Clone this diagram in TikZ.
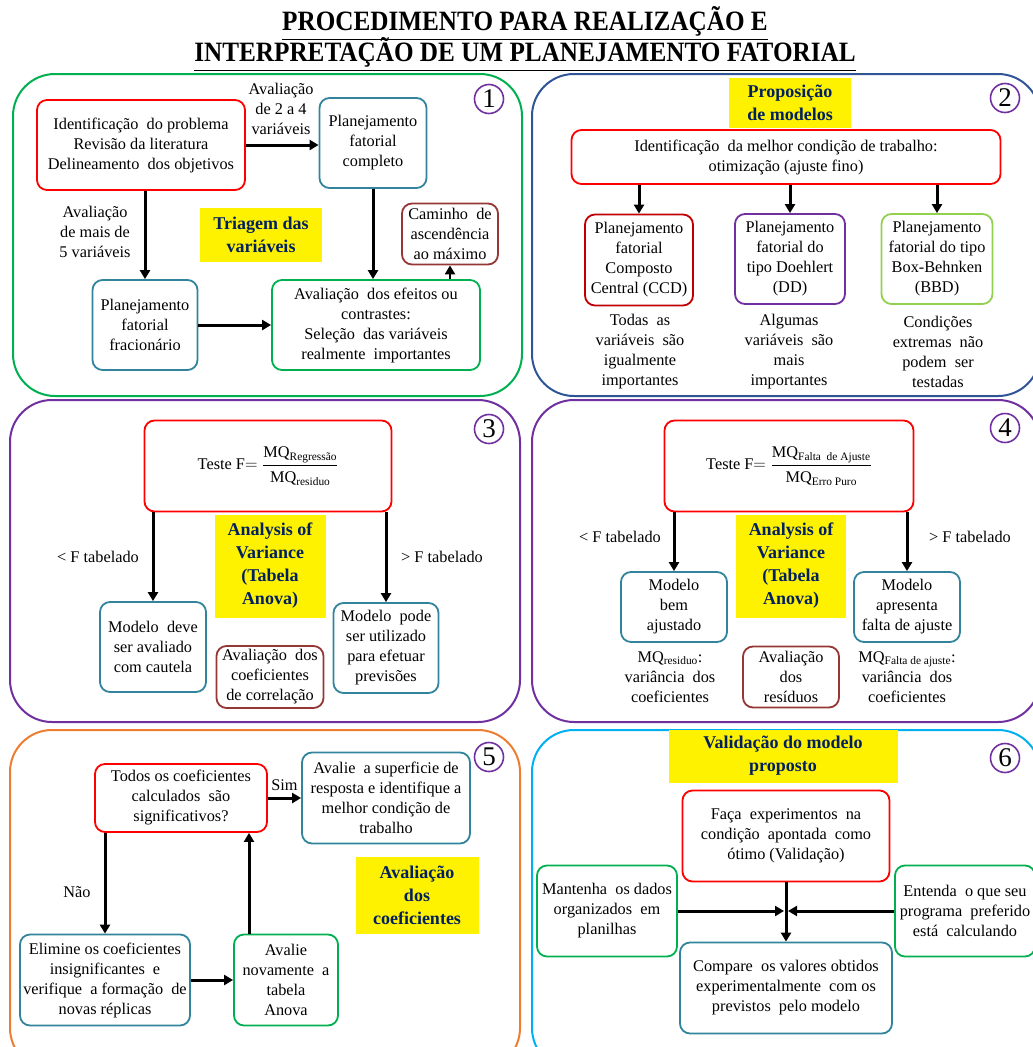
\documentclass[tikz,border=0pt]{standalone}
\usepackage{fontspec}
\setmainfont{Liberation Serif}
\newfontfamily\titlefont[FakeStretch=0.9]{Liberation Serif}
\usepackage{amsmath}
\usetikzlibrary{arrows.meta,positioning}

\definecolor{boxred}{RGB}{255,0,0}
\definecolor{boxteal}{RGB}{49,132,155}
\definecolor{boxgreen}{RGB}{0,176,80}
\definecolor{boxbrown}{RGB}{149,55,53}
\definecolor{ccdred}{RGB}{192,0,0}
\definecolor{numpurple}{RGB}{112,48,160}
\definecolor{bbdgreen}{RGB}{146,208,80}
\definecolor{paneblue}{RGB}{47,85,151}
\definecolor{paneorange}{RGB}{237,125,49}
\definecolor{panesky}{RGB}{0,176,240}
\definecolor{hlnavy}{RGB}{0,32,96}

\begin{document}
\begin{tikzpicture}[x=1pt, y=-1pt, >={Triangle[length=9pt,width=10pt]}, line width=1.8pt,
  font=\fontsize{16.3}{20}\selectfont,
  box/.style={draw, rounded corners=10pt, align=center, inner sep=1pt},
  panel/.style={draw, rounded corners=42pt, line width=2pt},
  num/.style={circle, draw=numpurple, line width=1.6pt, inner sep=0pt, minimum size=29pt, font=\fontsize{27}{27}\selectfont},
  hl/.style={fill=yellow, text=hlnavy, align=center, inner sep=0pt, font=\bfseries\fontsize{18}{23}\selectfont},
  arr/.style={->, line width=3pt},
  lbl/.style={align=center, inner sep=0pt}]
  \useasboundingbox (0,0) rectangle (1033,1047);

  % title
  \node[lbl, font=\titlefont\bfseries\fontsize{28}{30}\selectfont] (title) at (525,39)
    {\underline{PROCEDIMENTO PARA REALIZAÇÃO E}\\[-5pt]\underline{INTERPRETAÇÃO DE UM PLANEJAMENTO FATORIAL}};

  % panels
  \draw[panel, boxgreen] (13,74) rectangle (522,396);
  \draw[panel, paneblue] (532,74) rectangle (1040,396);
  \draw[panel, numpurple] (10,400) rectangle (520,722);
  \draw[panel, numpurple] (532,400) rectangle (1040,722);
  \draw[panel, paneorange] (10,730) rectangle (520,1070);
  \draw[panel, panesky] (532,730) rectangle (1040,1070);

  \node[num] (n1) at (489,99) {1};
  \node[num] (n2) at (1005,98) {2};
  \node[num] (n3) at (489,429) {3};
  \node[num] (n4) at (1005,428) {4};
  \node[num] (n5) at (489,757) {5};
  \node[num] (n6) at (1005,758) {6};

  % 1: triagem
  \node[box, draw=boxred, minimum width=208pt, minimum height=90pt] (ident) at (141,145)
    {Identificação\ \ do problema\\Revisão da literatura\\Delineamento\ \ dos objetivos};
  \node[box, draw=boxteal, minimum width=107pt, minimum height=90pt] (compl) at (373,143)
    {Planejamento\\fatorial\\completo};
  \node[box, draw=boxteal, minimum width=105pt, minimum height=90pt] (fracion) at (145,325)
    {Planejamento\\fatorial\\fracionário};
  \node[box, draw=boxgreen, minimum width=208pt, minimum height=90pt] (efeitos) at (376,325)
    {Avaliação\ \ dos efeitos ou\\contrastes:\\Seleção\ \ das variáveis\\realmente\ \ importantes};
  \node[box, draw=boxbrown, minimum width=96pt, minimum height=61pt, inner sep=0pt] (caminho) at (450,234)
    {Caminho\ \ de\\ascendência\\ao máximo};
  \node[hl, minimum width=122pt, minimum height=54pt] (triagem) at (261,235) {Triagem das\\variáveis};
  \node[lbl] (l24) at (281,109) {Avaliação\\de 2 a 4\\variáveis};
  \node[lbl] (l5) at (95,232) {Avaliação\\de mais de\\5 variáveis};
  \draw[arr] (ident.east) -- (compl.west |- ident.east);
  \draw[arr] (fracion.north |- ident.south) -- (fracion.north);
  \draw[arr] (fracion.east) -- (efeitos.west);
  \draw[arr] (compl.south) -- (compl.south |- efeitos.north);
  \draw[arr, line width=2.4pt] (caminho.south |- efeitos.north) -- (caminho.south);

  % 2: modelos
  \node[hl, minimum width=122pt, minimum height=50pt] (prop) at (790,103) {Proposição\\de modelos};
  \node[box, draw=boxred, minimum width=429pt, minimum height=54pt] (otim) at (786,157)
    {Identificação\ \ da melhor condição de trabalho:\\otimização (ajuste fino)};
  \node[box, draw=ccdred, minimum width=108pt, minimum height=91pt, inner sep=0pt] (ccd) at (639,260)
    {Planejamento\\fatorial\\Composto\\Central (CCD)};
  \node[box, draw=numpurple, minimum width=110pt, minimum height=90pt, inner sep=0pt] (dd) at (790,259)
    {Planejamento\\fatorial do\\tipo Doehlert\\(DD)};
  \node[box, draw=bbdgreen, minimum width=111pt, minimum height=90pt, inner sep=0pt] (bbd) at (937,259)
    {Planejamento\\fatorial do tipo\\Box-Behnken\\(BBD)};
  \draw[arr] (otim.south -| ccd) -- (ccd.north);
  \draw[arr] (otim.south -| dd) -- (dd.north);
  \draw[arr] (otim.south -| bbd) -- (bbd.north);
  \node[lbl] (tccd) at (640,352) {Todas\ \ as\\variáveis\ \ são\\igualmente\\importantes};
  \node[lbl] (tdd) at (789,352) {Algumas\\variáveis\ \ são\\mais\\importantes};
  \node[lbl] (tbbd) at (938,352) {Condições\\extremas\ \ não\\podem\ \ ser\\testadas};

  % 3: anova regressao
  \node[box, draw=boxred, minimum width=247pt, minimum height=91pt] (f3) at (268,466)
    {Teste F$=\dfrac{\text{MQ\textsubscript{Regressão}}}{\rule{0pt}{15pt}\text{MQ\textsubscript{residuo}}}$};
  \node[box, draw=boxteal, minimum width=106pt, minimum height=90pt] (deve) at (153,647)
    {Modelo\ \ deve\\ser avaliado\\com cautela};
  \node[box, draw=boxteal, minimum width=105pt, minimum height=90pt] (pode) at (386,648)
    {Modelo\ \ pode\\ser utilizado\\para efetuar\\previsões};
  \node[box, draw=boxbrown, minimum width=107pt, minimum height=62pt, inner sep=0pt] (corr) at (270,677)
    {Avaliação\ \ dos\\coeficientes\\de correlação};
  \node[hl, minimum width=111pt, minimum height=103pt] (anova3) at (270,566)
    {Analysis of\\Variance\\(Tabela\\Anova)};
  \draw[arr] (deve.north |- f3.south) -- (deve.north);
  \draw[arr] (pode.north |- f3.south) -- (pode.north);
  \node[lbl] (lt3) at (98,557) {< F tabelado};
  \node[lbl] (gt3) at (442,557) {> F tabelado};

  % 4: anova falta de ajuste
  \node[box, draw=boxred, minimum width=249pt, minimum height=91pt] (f4) at (789,466)
    {Teste F$=\dfrac{\text{MQ\textsubscript{Falta\ \ de Ajuste}}}{\rule{0pt}{15pt}\text{MQ\textsubscript{Erro Puro}}}$};
  \node[box, draw=boxteal, minimum width=106pt, minimum height=70pt] (bem) at (674,607)
    {Modelo\\bem\\ajustado};
  \node[box, draw=boxteal, minimum width=106pt, minimum height=70pt, inner sep=0pt] (falta) at (907,607)
    {Modelo\\apresenta\\falta de ajuste};
  \node[hl, minimum width=110pt, minimum height=103pt] (anova4) at (791,566)
    {Analysis of\\Variance\\(Tabela\\Anova)};
  \draw[arr] (bem.north |- f4.south) -- (bem.north);
  \draw[arr] (falta.north |- f4.south) -- (falta.north);
  \node[lbl] (lt4) at (620,537) {< F tabelado};
  \node[lbl] (gt4) at (970,537) {> F tabelado};
  \node[lbl] (mqres) at (670,677) {MQ\textsubscript{residuo}:\\variância\ \ dos\\coeficientes};
  \node[box, draw=boxbrown, minimum width=96pt, minimum height=61pt, inner sep=0pt] (resid) at (791,677)
    {Avaliação\\dos\\resíduos};
  \node[lbl] (mqfal) at (907,677) {MQ\textsubscript{Falta\ de ajuste}:\\variância\ \ dos\\coeficientes};

  % 5: coeficientes
  \node[box, draw=boxred, minimum width=172pt, minimum height=68pt] (todos) at (181,798)
    {Todos os coeficientes\\calculados\ \ são\\significativos?};
  \node[box, draw=boxteal, minimum width=168pt, minimum height=91pt, inner sep=0pt] (sup) at (386,798)
    {Avalie\ \ a superficie de\\resposta e identifique a\\melhor condição de\\trabalho};
  \node[hl, minimum width=123pt, minimum height=77pt] (aval5) at (417,895) {Avaliação\\dos\\coeficientes};
  \node[box, draw=boxteal, minimum width=170pt, minimum height=91pt, inner sep=0pt] (elim) at (105,980)
    {Elimine os coeficientes\\insignificantes\ \ e\\verifique\ \ a formação\ \ de\\novas réplicas};
  \node[box, draw=boxgreen, minimum width=104pt, minimum height=91pt] (nov) at (286,980)
    {Avalie\\novamente\ \ a\\tabela\\Anova};
  \draw[arr] (todos.east) -- (sup.west |- todos.east) node[lbl, midway, above=6pt] (sim) {Sim};
  \draw[arr] (todos.south -| elim.north) -- (elim.north);
  \node[lbl] (nao) at (77,892) {Não};
  \draw[arr] (elim.east) -- (nov.west);
  \draw[arr] ([xshift=-37pt]nov.north) -- ([xshift=-37pt]nov.north |- todos.south);

  % 6: validacao
  \node[hl, minimum width=229pt, minimum height=53pt] (valid) at (783,756) {Validação do modelo\\proposto};
  \node[box, draw=boxred, minimum width=207pt, minimum height=91pt] (faca) at (786,836)
    {Faça\ \ experimentos\ \ na\\condição\ \ apontada\ \ como\\ótimo (Validação)};
  \node[box, draw=boxgreen, minimum width=140pt, minimum height=91pt, inner sep=0pt] (mant) at (607,911)
    {Mantenha\ \ os dados\\organizados\ \ em\\planilhas};
  \node[box, draw=boxgreen, minimum width=140pt, minimum height=91pt, inner sep=0pt] (ent) at (965,911)
    {Entenda\ \ o que seu\\programa\ \ preferido\\está\ \ calculando};
  \node[box, draw=boxteal, minimum width=212pt, minimum height=91pt, inner sep=0pt] (comp) at (786,988)
    {Compare\ \ os valores obtidos\\experimentalmente\ \ com os\\previstos\ \ pelo modelo};
  \coordinate (meet) at (faca.south |- mant.east);
  \draw[arr] (faca.south) -- (comp.north);
  \draw[arr] (mant.east) -- ([xshift=-2pt]meet);
  \draw[arr] (ent.west) -- ([xshift=2pt]meet);
\end{tikzpicture}
\end{document}
